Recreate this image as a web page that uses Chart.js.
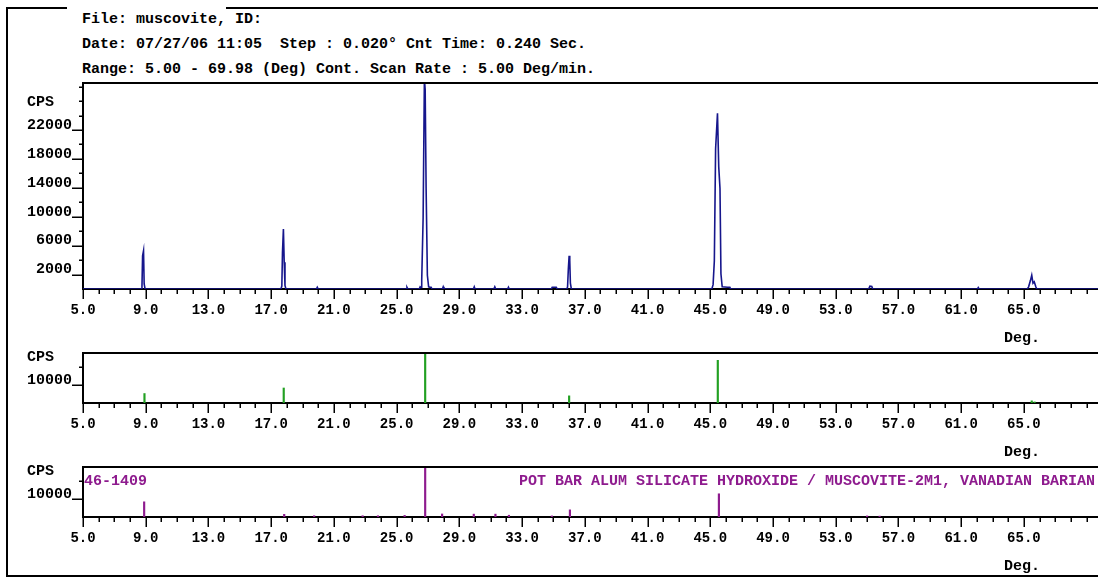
<!DOCTYPE html>
<html>
<head>
<meta charset="utf-8">
<script src="https://cdn.jsdelivr.net/npm/chart.js@4.4.0/dist/chart.umd.min.js"></script>
<style>
  html, body { margin: 0; padding: 0; background: #fff; overflow: hidden; }
  #page { position: relative; width: 1098px; height: 578px; overflow: hidden; background: #fff; }
  #page canvas { position: absolute; left: 0; top: 0; }
  .frame { position: absolute; background: #000; }
  .hdr { position: absolute; left: 82px; font: bold 15px "Liberation Mono", monospace; line-height: 17px; white-space: pre; color: #000; }
</style>
</head>
<body>
<div id="page">
  <div class="frame" style="left:6px;top:7px;width:2px;height:570px"></div>
  <div class="frame" style="left:6px;top:575px;width:1092px;height:2px"></div>
  <div class="frame" style="left:6px;top:7px;width:61px;height:2px"></div>
  <div class="frame" style="left:226px;top:7px;width:872px;height:2px"></div>
  <div class="hdr" style="top:11px">File: muscovite, ID:</div>
  <div class="hdr" style="top:36px">Date: 07/27/06 11:05  Step : 0.020° Cnt Time: 0.240 Sec.</div>
  <div class="hdr" style="top:61px">Range: 5.00 - 69.98 (Deg) Cont. Scan Rate : 5.00 Deg/min.</div>
  <canvas id="scan" width="1120" height="578"></canvas>
  <canvas id="peaks" width="1120" height="578"></canvas>
  <canvas id="card" width="1120" height="578"></canvas>
</div>
<script>
// measured scan (2-theta, counts per second)
const scanDeg = [5.00, 8.70, 8.76, 8.80, 8.86, 8.90, 8.96,
  17.62, 17.68, 17.72, 17.78, 17.83, 17.88, 17.94,
  19.88, 19.94, 20.00, 25.60, 25.66, 25.72,
  26.44, 26.50, 26.56, 26.60, 26.69, 26.77, 26.82, 26.88, 26.96, 27.04, 27.12, 27.20, 27.26,
  27.92, 27.97, 28.02, 29.90, 29.95, 30.00, 31.20, 31.26, 31.32, 32.08, 32.13, 32.18,
  34.86, 34.92, 35.05, 35.18, 35.24,
  35.86, 35.90, 35.95, 36.00, 36.04, 36.08, 36.14,
  45.10, 45.18, 45.26, 45.34, 45.46, 45.54, 45.62, 45.68, 45.76, 46.10, 46.25, 46.30,
  55.10, 55.18, 55.30, 55.36, 62.04, 62.09, 62.14,
  65.22, 65.30, 65.42, 65.50, 65.58, 65.66, 65.76, 65.82, 69.98];
const scanCps = [0, 0, 300, 4600, 5300, 700, 0,
  0, 400, 5000, 8300, 3700, 500, 0,
  0, 250, 0, 0, 250, 0,
  0, 300, 200, 1200, 9900, 29000, 27600, 13900, 1900, 300, 250, 250, 0,
  0, 300, 0, 0, 300, 0, 0, 300, 0, 0, 250, 0,
  0, 250, 250, 250, 0,
  0, 300, 2800, 4600, 3900, 800, 0,
  0, 600, 3900, 19400, 24300, 16900, 13900, 2100, 300, 250, 250, 0,
  0, 400, 350, 0, 0, 200, 0,
  0, 300, 1200, 1900, 800, 1000, 300, 0, 0];

// peak search result (sticks)
const peakDeg = [8.92, 17.80, 26.82, 36.00, 45.48, 65.50, 65.68];
const peakCps = [5300, 8400, 28000, 4000, 23900, 1200, 600];

// reference card 46-1409
const cardDeg = [8.90, 17.83, 19.74, 22.83, 23.81, 25.51, 26.82, 27.90, 29.92, 31.30, 32.16, 34.90, 36.05, 45.55, 55.00, 55.80];
const cardCps = [8500, 1500, 700, 700, 700, 900, 28000, 1700, 1600, 1600, 1000, 600, 4000, 13000, 600, 500];
const cardName = "46-1409";
const cardTitle = "POT BAR ALUM SILICATE HYDROXIDE / MUSCOVITE-2M1, VANADIAN BARIAN";

// tick labels
const degTicks = [5, 9, 13, 17, 21, 25, 29, 33, 37, 41, 45, 49, 53, 57, 61, 65];
const scanCpsTicks = [2000, 6000, 10000, 14000, 18000, 22000];
const stickCpsTicks = [10000];

const FONT = "Liberation Mono";
const PAGE_H = 578;
const AXIS_H = 40;
const DEG_MIN = 5, DEG_MAX = 69.98;

// build ticks ourselves: chart.js bends stepSize when min/max don't divide evenly
function stepTicks(from, to, step) {
  const out = [];
  for (let v = from; v <= to + 1e-9; v += step) out.push({ value: v });
  return out;
}

const panelDeco = {
  id: 'panelDeco',
  afterDraw(chart, args, o) {
    const { ctx, chartArea: a, scales: { x, y } } = chart;
    ctx.save();
    ctx.strokeStyle = '#000';
    ctx.lineWidth = 2;
    ctx.beginPath();
    ctx.moveTo(a.left - 1, a.top);
    ctx.lineTo(a.right, a.top);
    ctx.stroke();

    ctx.lineWidth = 1.5;
    ctx.beginPath();
    x.ticks.forEach(t => {
      const px = Math.round(x.getPixelForValue(t.value)) + 0.25;
      const len = degTicks.includes(t.value) ? 10 : 5;
      ctx.moveTo(px, a.bottom);
      ctx.lineTo(px, a.bottom + len);
    });
    let topLabelY = a.bottom;
    y.ticks.forEach(t => {
      if (t.value <= 0) return;
      const py = Math.round(y.getPixelForValue(t.value)) + 0.25;
      const major = o.labels.includes(t.value);
      if (major) topLabelY = Math.min(topLabelY, py);
      ctx.moveTo(a.left - (major ? 11 : 4), py);
      ctx.lineTo(a.left, py);
    });
    ctx.stroke();

    ctx.fillStyle = '#000';
    ctx.font = 'bold 15px "' + FONT + '"';
    ctx.textBaseline = 'middle';
    ctx.textAlign = 'left';
    ctx.fillText('CPS', 27, topLabelY - 28);
    ctx.textAlign = 'center';
    ctx.fillText('Deg.', x.getPixelForValue(65) - 2, a.bottom + 49);

    if (o.texts) {
      ctx.fillStyle = o.textColor;
      ctx.textAlign = 'left';
      o.texts.forEach(tx => ctx.fillText(tx.text, tx.x, a.top + 14));
    }
    ctx.restore();
  }
};

function makePanel(id, p) {
  return new Chart(document.getElementById(id), {
    type: p.type,
    data: {
      datasets: [{
        data: p.deg.map((d, i) => ({ x: d, y: p.cps[i] })),
        borderColor: p.color,
        backgroundColor: p.color,
        borderWidth: p.type === 'line' ? 1.6 : 0,
        pointRadius: 0,
        tension: 0,
        fill: false,
        barThickness: 1.5,
        grouped: false
      }]
    },
    options: {
      responsive: false,
      animation: false,
      devicePixelRatio: 1,
      events: [],
      layout: { padding: { top: p.top, bottom: PAGE_H - p.bottom - AXIS_H, left: 0, right: 18 } },
      plugins: {
        legend: { display: false },
        tooltip: { enabled: false },
        panelDeco: { labels: p.labels, texts: p.texts, textColor: p.color }
      },
      scales: {
        x: {
          type: 'linear',
          min: DEG_MIN,
          max: DEG_MAX,
          offset: false,
          afterBuildTicks: s => { s.ticks = stepTicks(DEG_MIN, 69, 1); },
          afterFit: s => { s.height = AXIS_H; },
          grid: { display: false, drawTicks: false, offset: false },
          border: { display: true, color: '#000', width: 2 },
          ticks: {
            autoSkip: false,
            maxRotation: 0,
            padding: 13,
            color: '#000',
            font: { family: FONT, size: 14, weight: 'bold' },
            callback: v => degTicks.includes(v) ? v.toFixed(1) : ''
          }
        },
        y: {
          type: 'linear',
          min: 0,
          max: p.max,
          afterBuildTicks: s => { s.ticks = stepTicks(0, p.max, p.step); },
          afterFit: s => { s.width = 83; },
          grid: { display: false, drawTicks: false },
          border: { display: true, color: '#000', width: 2 },
          ticks: {
            autoSkip: false,
            padding: 11,
            labelOffset: -5,
            color: '#000',
            font: { family: FONT, size: 15, weight: 'bold' },
            callback: v => p.labels.includes(v) ? String(v) : ''
          }
        }
      }
    },
    plugins: [panelDeco]
  });
}

makePanel('scan', {
  type: 'line', deg: scanDeg, cps: scanCps, color: '#16168c',
  top: 83, bottom: 289, max: 28500, step: 2000, labels: scanCpsTicks
});
makePanel('peaks', {
  type: 'bar', deg: peakDeg, cps: peakCps, color: '#22a022',
  top: 353, bottom: 403, max: 28000, step: 10000, labels: stickCpsTicks
});
makePanel('card', {
  type: 'bar', deg: cardDeg, cps: cardCps, color: '#8e1b8e',
  top: 467, bottom: 517, max: 28000, step: 10000, labels: stickCpsTicks,
  texts: [{ text: cardName, x: 84 }, { text: cardTitle, x: 519 }]
});
</script>
</body>
</html>
